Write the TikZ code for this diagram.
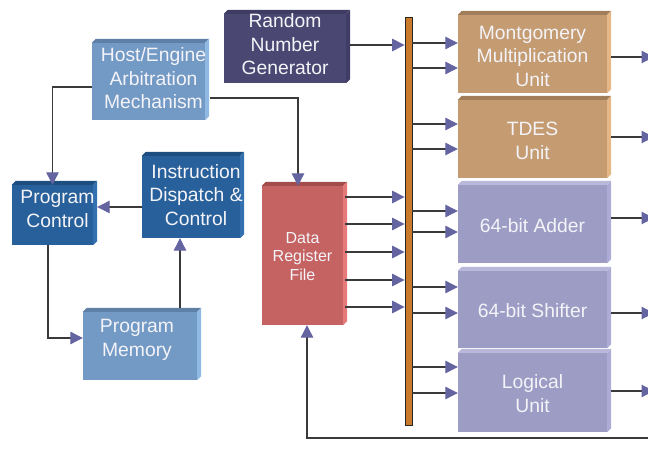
\documentclass[tikz,border=0pt]{standalone}
\usepackage{fontspec}
\setmainfont{Liberation Sans}
\usetikzlibrary{arrows.meta}

% face colours: F = front, T = top bevel, S = side
\definecolor{rnF}{HTML}{4A4873}\definecolor{rnT}{HTML}{3E3C62}\definecolor{rnS}{HTML}{3F3D66}
\definecolor{ltF}{HTML}{7399C5}\definecolor{ltT}{HTML}{5E7FA6}\definecolor{ltS}{HTML}{8FB8E3}
\definecolor{dkF}{HTML}{27609A}\definecolor{dkT}{HTML}{1E4E80}\definecolor{dkS}{HTML}{3370B0}
\definecolor{reF}{HTML}{C56262}\definecolor{reT}{HTML}{A24C4C}\definecolor{reS}{HTML}{E67A7A}
\definecolor{taF}{HTML}{C59B72}\definecolor{taT}{HTML}{A27D5A}\definecolor{taS}{HTML}{E6B786}
\definecolor{laF}{HTML}{9D9CC5}\definecolor{laT}{HTML}{B9B8DA}\definecolor{laS}{HTML}{ADACD6}
\definecolor{busC}{HTML}{C97A2A}
\definecolor{lineC}{HTML}{3A3A3A}
\definecolor{tipC}{HTML}{6464A0}
\definecolor{txtC}{HTML}{F4F4F8}

\newcommand{\dd}{4}
% #1 name, #2 centre, #3 width, #4 height, #5 colour scheme
\newcommand{\blockbox}[5]{%
  \node[face, fill=#5F, minimum width=#3pt, minimum height=#4pt] (#1) at (#2) {};
  \fill[#5T] (#1.north west) -- ++(\dd,-\dd) -- ([shift={(\dd,-\dd)}]#1.north east) -- (#1.north east) -- cycle;
  \fill[#5S] (#1.north east) -- ++(\dd,-\dd) -- ([shift={(\dd,-\dd)}]#1.south east) -- (#1.south east) -- cycle;
}

\begin{document}
\begin{tikzpicture}[x=1pt,y=-1pt,
  face/.style={draw=none, inner sep=0pt, shape=rectangle},
  txt/.style={text=txtC, align=center, inner sep=0pt,
    font=\fontsize{19.3}{23.5}\selectfont},
  smalltxt/.style={txt, font=\fontsize{16}{18.3}\selectfont},
  arr/.style={draw=lineC, line width=1.1pt,
    -{Triangle[length=12.5pt,width=12.5pt,color=tipC]}},
  wire/.style={draw=lineC, line width=1.1pt}]
\useasboundingbox (0,0) rectangle (648,457);

% control side
\blockbox{rng}{285,48.5}{122}{69}{rn}
\blockbox{host}{148.5,81.5}{113}{77}{lt}
\blockbox{pc}{52.5,215}{81}{60}{dk}
\blockbox{idc}{191,197}{98}{82}{dk}
\blockbox{pm}{140,346}{114}{68}{lt}
\blockbox{drf}{302.5,255.5}{81}{139}{re}

% execution units
\blockbox{mont}{532.5,54}{149}{78}{ta}
\blockbox{tdes}{532.5,139}{149}{78}{ta}
\blockbox{add}{532.5,224}{149}{78}{la}
\blockbox{shift}{532.5,309.5}{149}{77}{la}
\blockbox{logic}{532.5,392.5}{149}{79}{la}

% labels
\node[txt, yshift=4pt] (rng-t) at (rng) {Random\\Number\\Generator};
\node[txt, xshift=5pt, yshift=3pt] (host-t) at (host) {Host/Engine\\Arbitration\\Mechanism};
\node[txt, xshift=5pt, yshift=6pt] (pc-t) at (pc) {Program\\Control};
\node[txt, xshift=5pt, yshift=2pt] (idc-t) at (idc) {Instruction\\Dispatch \&\\Control};
\node[txt, xshift=-3pt, yshift=6pt] (pm-t) at (pm) {Program\\Memory};
\node[smalltxt, yshift=-1pt] (drf-t) at (drf) {Data\\Register\\File};
\node[txt, yshift=-2pt] (mont-t) at (mont) {Montgomery\\Multiplication\\Unit};
\node[txt, yshift=-2pt] (tdes-t) at (tdes) {TDES\\Unit};
\node[txt, yshift=-2pt] (add-t) at (add) {64-bit Adder};
\node[txt, yshift=-1pt] (shift-t) at (shift) {64-bit Shifter};
\node[txt, yshift=-1pt] (logic-t) at (logic) {Logical\\Unit};

% bus
\node[draw=black!85, line width=0.8pt, fill=busC, inner sep=0pt,
  minimum width=7pt, minimum height=408pt] (bus) at (408.5,221) {};

% control connections
\draw[arr] (host.west |- 0,87) -| (pc.north);
\draw[arr] ([xshift=5pt]host.east |- 0,98) -| ([xshift=-4.5pt]drf.north);
\draw[arr] (idc.west |- 0,207) -- ([xshift=4pt]pc.east |- 0,207);
\draw[arr] (pc.south -| 48,0) |- (pm.west |- 0,338);
\draw[arr] ([yshift=4pt]pm.north -| 180,0) -- (idc.south -| 180,0);

% onto the bus
\draw[arr] ([xshift=4pt]rng.east |- 0,45) -- (bus.west |- 0,45);
\foreach \y in {197,224,252,280,307}
  \draw[arr] ([xshift=2pt]drf.east |- 0,\y) -- (bus.west |- 0,\y);

% bus to units, unit outputs
\foreach \u/\a/\b/\o in {mont/43/68/57, tdes/124/149/137, add/211/232/218,
                         shift/287/313/313, logic/367/393/391} {
  \draw[arr] (bus.east |- 0,\a) -- (\u.west |- 0,\a);
  \draw[arr] (bus.east |- 0,\b) -- (\u.west |- 0,\b);
  \coordinate (out-\u) at (654,\o);
  \draw[arr] ([xshift=4pt]\u.east |- 0,\o) -- (out-\u);
}

% result feedback to the register file
\coordinate (fb) at (660,438);
\draw[arr] (fb) -| ([xshift=4.5pt]drf.south);
\end{tikzpicture}
\end{document}
